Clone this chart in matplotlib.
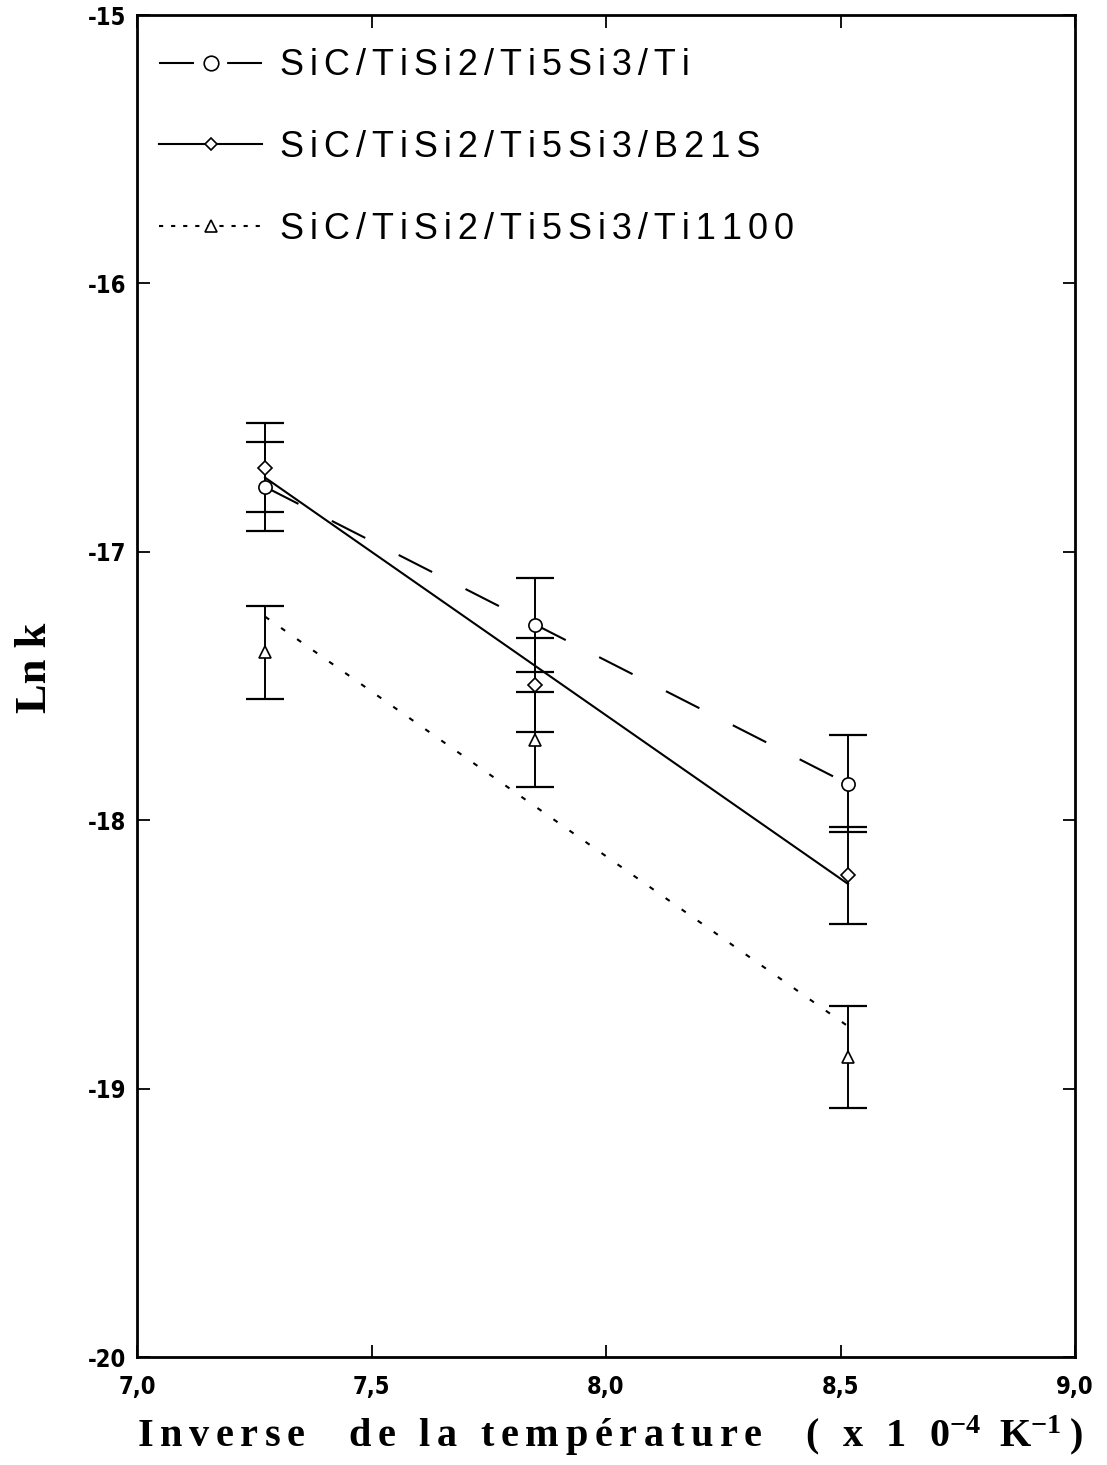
import numpy as np
import matplotlib
matplotlib.use("Agg")
import matplotlib.pyplot as plt
from matplotlib.lines import Line2D

# ---- data ----
inv_T = [7.273, 7.849, 8.516]  # x 10^-4 K^-1

ti_lnk = [-16.757, -17.273, -17.864]
ti_err = [0.167, 0.174, 0.180]

b21s_lnk = [-16.686, -17.495, -18.205]
b21s_err = [0.167, 0.175, 0.181]

ti1100_lnk = [-17.375, -17.700, -18.883]
ti1100_err = [0.174, 0.178, 0.190]

labels = ["SiC/TiSi2/Ti5Si3/Ti", "SiC/TiSi2/Ti5Si3/B21S", "SiC/TiSi2/Ti5Si3/Ti1100"]
xticks = [7.0, 7.5, 8.0, 8.5, 9.0]
xticklabels = ["7,0", "7,5", "8,0", "8,5", "9,0"]
yticks = [-20, -19, -18, -17, -16, -15]
yticklabels = ["-20", "-19", "-18", "-17", "-16", "-15"]

plt.rcParams["mathtext.fontset"] = "custom"
plt.rcParams["mathtext.rm"] = "Liberation Serif:bold"
plt.rcParams["mathtext.default"] = "rm"

THIN = "\u2009"
SIXTH = "\u2006"


def tracked(s, sep=THIN):
    return sep.join(s)


W, H = 1107, 1465
fig = plt.figure(figsize=(W / 100, H / 100), dpi=100)
ax = fig.add_axes([137 / W, 1 - 1357 / H, (1075 - 137) / W, (1357 - 15) / H])

lw = 1.5
styles = [
    dict(marker="o", ms=9.5, lms=10.5, dashes=(18, 18), ldashes=(16.8, 15.9)),
    dict(marker="D", ms=7.0, lms=6.5, dashes=None, ldashes=None),
    dict(marker="^", ms=8.5, lms=8.0, dashes=(2.4, 7.0), ldashes=(2.0, 3.8)),
]
series = [(ti_lnk, ti_err), (b21s_lnk, b21s_err), (ti1100_lnk, ti1100_err)]

x = np.array(inv_T)
handles = []
for (y, e), st in zip(series, styles):
    y = np.array(y)
    ax.errorbar(x, y, yerr=e, fmt="none", ecolor="black", elinewidth=1.4,
                capsize=13.5, capthick=1.6, zorder=2)
    ax.plot(x, y, linestyle="none", marker=st["marker"], ms=st["ms"],
            mfc="white", mec="black", mew=1.2, zorder=4)
    # least-squares fit line through each series
    p = np.polyfit(x, y, 1)
    xf = np.array([x.min(), x.max()])
    ln, = ax.plot(xf, np.polyval(p, xf), color="black", lw=lw, zorder=3)
    if st["dashes"] is not None:
        ln.set_dashes(st["dashes"])
    h = Line2D([], [], color="black", lw=lw, marker=st["marker"],
               ms=st["lms"], mfc="white", mec="black", mew=1.2)
    if st["ldashes"] is not None:
        h.set_dashes(st["ldashes"])
    handles.append(h)

ax.set_xlim(7.0, 9.0)
ax.set_ylim(-20, -15)
ax.set_xticks(xticks)
ax.set_xticklabels(xticklabels)
ax.set_yticks(yticks)
ax.set_yticklabels(yticklabels)

for t in ax.get_xticklabels() + ax.get_yticklabels():
    t.set_fontfamily(["DejaVu Sans"])
    t.set_fontstretch("condensed")
    t.set_fontweight("bold")
    t.set_fontsize(17)

ax.tick_params(direction="in", top=True, right=True, length=9, width=1.3)
ax.tick_params(axis="x", pad=13)
ax.tick_params(axis="y", pad=8)
for s in ax.spines.values():
    s.set_linewidth(2.0)

leg = ax.legend(handles, [tracked(l, SIXTH) for l in labels], loc="upper left",
                bbox_to_anchor=(-0.0107, 0.9995),
                frameon=False, handlelength=2.83, handletextpad=0.5,
                labelspacing=1.3, borderaxespad=0.5, numpoints=1,
                prop=dict(family=["Liberation Sans", "DejaVu Sans"], size=26))

fig.text(35 / W, 1 - 668 / H, "Ln k", rotation=90, ha="center", va="center",
         family=["Liberation Serif", "DejaVu Serif"], weight="bold", size=32)

xlabel = (tracked("Inverse", SIXTH) + SIXTH + "   " + SIXTH
          + tracked("de la température", SIXTH)
          + SIXTH + "   " + SIXTH + tracked("( x 1 0", SIXTH) + "$^{-4}$" + THIN + " "
          + "K" + "$^{-1}$" + THIN + ")")
fig.text(610 / W, 1 - 1436 / H, xlabel, ha="center", va="center",
         family=["Liberation Serif", "DejaVu Serif"], weight="bold", size=29)

fig.savefig("out.png", dpi=100)
